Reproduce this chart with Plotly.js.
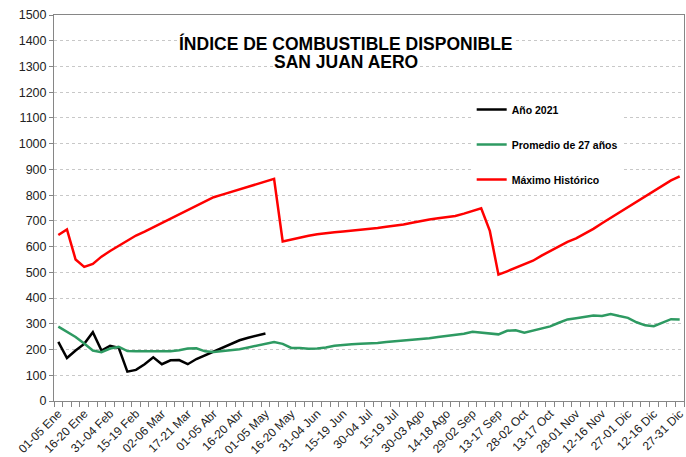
<!DOCTYPE html>
<html>
<head>
<meta charset="utf-8">
<script src="https://cdn.plot.ly/plotly-3.0.1.min.js"></script>
<style>html,body{margin:0;padding:0;background:#fff;}#chart{width:686px;height:457px;}</style>
</head>
<body>
<div id="chart"></div>
<script>
var categories = [
  "01-05 Ene","06-10 Ene","11-15 Ene","16-20 Ene","21-25 Ene","26-30 Ene",
  "31-04 Feb","05-09 Feb","10-14 Feb","15-19 Feb","20-24 Feb","25-01 Mar",
  "02-06 Mar","07-11 Mar","12-16 Mar","17-21 Mar","22-26 Mar","27-31 Mar",
  "01-05 Abr","06-10 Abr","11-15 Abr","16-20 Abr","21-25 Abr","26-30 Abr",
  "01-05 May","06-10 May","11-15 May","16-20 May","21-25 May","26-30 May",
  "31-04 Jun","05-09 Jun","10-14 Jun","15-19 Jun","20-24 Jun","25-29 Jun",
  "30-04 Jul","05-09 Jul","10-14 Jul","15-19 Jul","20-24 Jul","25-29 Jul",
  "30-03 Ago","04-08 Ago","09-13 Ago","14-18 Ago","19-23 Ago","24-28 Ago",
  "29-02 Sep","03-07 Sep","08-12 Sep","13-17 Sep","18-22 Sep","23-27 Sep",
  "28-02 Oct","03-07 Oct","08-12 Oct","13-17 Oct","18-22 Oct","23-27 Oct",
  "28-01 Nov","02-06 Nov","07-11 Nov","12-16 Nov","17-21 Nov","22-26 Nov",
  "27-01 Dic","02-06 Dic","07-11 Dic","12-16 Dic","17-21 Dic","22-26 Dic",
  "27-31 Dic"
];

var year2021 = [230,167,196,222,267,196,214,207,114,121,143,170,143,158,159,143,
  163,178,193,208,222,236,246,255,262];

var promedio27 = [289,268,249,223,196,190,204,211,194,193,193,194,195,193,197,204,
  205,193,190,194,197,201,208,215,222,229,222,206,206,203,204,208,215,219,221,222,
  223,225,229,232,236,239,240,244,249,253,258,261,269,266,264,259,273,275,265,273,
  282,290,304,317,322,327,332,330,338,330,323,306,294,291,304,318,317];

var maximoHistorico = [645,667,550,521,533,561,583,602,623,643,658,675,692,709,724,740,
  759,777,792,802,812,822,833,843,853,863,620,628,636,642,648,653,656,659,662,665,
  668,672,677,681,686,693,700,705,710,714,719,728,738,749,661,491,504,517,531,545,
  565,583,600,618,632,649,669,691,712,734,753,775,797,818,838,857,873];

var seriesNames = ["Año 2021","Promedio de 27 años","Máximo Histórico"];
var titleLines = ["ÍNDICE DE COMBUSTIBLE DISPONIBLE","SAN JUAN AERO"];
var labelStep = 3;

var tickText = categories.map(function(c,i){ return i % labelStep === 0 ? c : ""; });

var traces = [
  {x: categories.slice(0, year2021.length), y: year2021, name: seriesNames[0], mode: "lines",
   line: {color: "#000000", width: 2.5}, legendgroup: "a"},
  {x: categories, y: promedio27, name: seriesNames[1], mode: "lines",
   line: {color: "#2e9a62", width: 2.5}, legendgroup: "b"},
  {x: categories, y: maximoHistorico, name: seriesNames[2], mode: "lines",
   line: {color: "#ff0000", width: 2.5}, legendgroup: "c"}
];

var layout = {
  width: 686, height: 457,
  margin: {l: 54, r: 2, t: 15, b: 56},
  paper_bgcolor: "#ffffff", plot_bgcolor: "#ffffff",
  font: {family: "Liberation Sans, Arial, sans-serif", color: "#222222", size: 12},
  showlegend: true,
  legend: {
    x: 0.663, xanchor: "left", y: 0.793, yanchor: "top",
    bgcolor: "#ffffff", borderwidth: 0,
    font: {size: 10.5, weight: "bold", color: "#000000"},
    traceorder: "grouped", tracegroupgap: 16
  },
  xaxis: {
    type: "category",
    tickmode: "array", tickvals: categories, ticktext: tickText,
    tickangle: -45, tickson: "boundaries",
    ticks: "outside", ticklen: 5, tickcolor: "#868686",
    showline: true, linecolor: "#868686", linewidth: 1, mirror: true,
    showgrid: false, zeroline: false,
    tickfont: {size: 12, color: "#222222"},
    range: [-0.5, categories.length - 0.5]
  },
  yaxis: {
    range: [0, 1500], dtick: 100, tick0: 0,
    ticks: "outside", ticklen: 4, tickcolor: "#868686",
    showline: true, linecolor: "#868686", linewidth: 1, mirror: true,
    showgrid: true, gridcolor: "#c8c8c8", griddash: "dot", gridwidth: 1,
    zeroline: false,
    tickfont: {size: 12.5, color: "#222222"}
  },
  annotations: [
    {text: titleLines[0], xref: "paper", yref: "paper", x: 0.4635, y: 0.927,
     xanchor: "center", yanchor: "middle", showarrow: false, bgcolor: "#ffffff", borderpad: 0,
     font: {size: 17.5, weight: "bold", color: "#000000"}},
    {text: titleLines[1], xref: "paper", yref: "paper", x: 0.4635, y: 0.877,
     xanchor: "center", yanchor: "middle", showarrow: false, bgcolor: "#ffffff", borderpad: 0,
     font: {size: 17.5, weight: "bold", color: "#000000"}}
  ]
};

Plotly.newPlot("chart", traces, layout, {displayModeBar: false, staticPlot: true});
</script>
</body>
</html>
